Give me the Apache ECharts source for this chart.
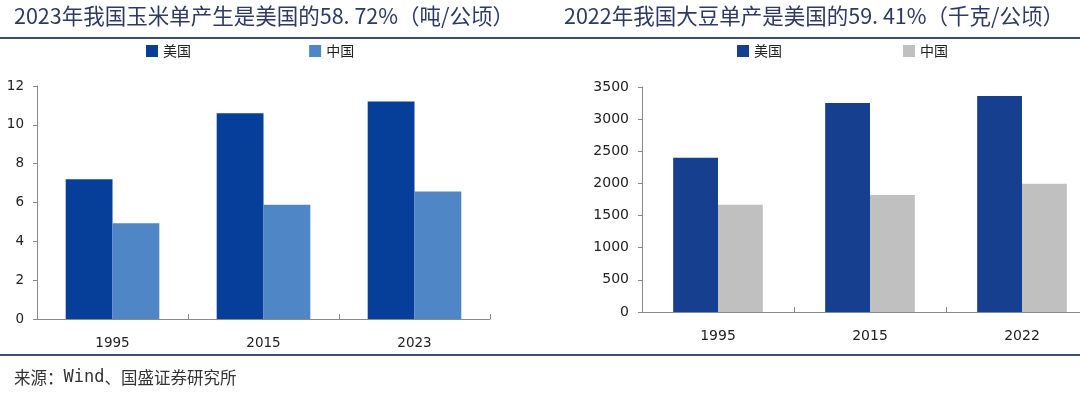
<!DOCTYPE html>
<html><head><meta charset="utf-8">
<script src="https://cdn.jsdelivr.net/npm/echarts@6/dist/echarts.min.js"></script>
<style>html,body{margin:0;padding:0;background:#fff}#c{width:1080px;height:393px}</style>
</head><body><div id="c"></div>
<script>
const cornYears = ['1995', '2015', '2023'];
const cornUS = [7.2, 10.6, 11.2];
const cornCN = [4.93, 5.88, 6.57];
const soyYears = ['1995', '2015', '2022'];
const soyUS = [2400, 3250, 3360];
const soyCN = [1670, 1820, 1996];
const seriesNames = ['美国', '中国'];
const titleLeft = '2023年我国玉米单产生是美国的58. 72%（吨/公顷）';
const titleRight = '2022年我国大豆单产是美国的59. 41%（千克/公顷）';
const sourceParts = ['来源：', 'Wind', '、国盛证券研究所'];

const chart = echarts.init(document.getElementById('c'), null, {renderer: 'canvas'});
const axisFont = 'DejaVu Sans';
const cjk = '"Noto Sans CJK SC"';
function xAxis(idx, data, fs) {
  return {type: 'category', gridIndex: idx, data: data,
    axisLine: {lineStyle: {color: '#8a8a8a', width: 1}},
    axisTick: {show: true, inside: true, length: 5, lineStyle: {color: '#8a8a8a'}},
    axisLabel: {color: '#222', fontFamily: axisFont, fontSize: fs, margin: 17}};
}
function yAxis(idx, max, interval, fs) {
  return {type: 'value', gridIndex: idx, min: 0, max: max, interval: interval,
    axisLine: {show: true, lineStyle: {color: '#8a8a8a', width: 1}},
    axisTick: {show: true, length: 4, lineStyle: {color: '#8a8a8a'}},
    splitLine: {show: false},
    axisLabel: {color: '#222', fontFamily: axisFont, fontSize: fs, margin: 13,
      formatter: function (v) { return String(v); }}};
}
chart.setOption({
  animation: false,
  backgroundColor: '#ffffff',
  grid: [
    {left: 37, top: 86, width: 453, height: 233, outerBoundsMode: 'none', containLabel: false},
    {left: 642, top: 87, width: 456, height: 225, outerBoundsMode: 'none', containLabel: false}
  ],
  legend: [
    {data: [{name: seriesNames[0] + ' ', itemStyle: {color: '#063f9a'}}, {name: seriesNames[1] + ' ', itemStyle: {color: '#4f86c6'}}],
      left: 146, top: 44, padding: 0, itemWidth: 12, itemHeight: 12, itemGap: 115, icon: 'rect',
      textStyle: {fontFamily: cjk, fontSize: 14, color: '#222'}},
    {data: [{name: seriesNames[0], itemStyle: {color: '#173f8f'}}, {name: seriesNames[1], itemStyle: {color: '#c0c0c0'}}],
      left: 737, top: 44, padding: 0, itemWidth: 12, itemHeight: 12, itemGap: 121, icon: 'rect',
      textStyle: {fontFamily: cjk, fontSize: 14, color: '#222'}}
  ],
  xAxis: [xAxis(0, cornYears, 13.5), xAxis(1, soyYears, 14)],
  yAxis: [yAxis(0, 12, 2, 13.5), yAxis(1, 3500, 500, 14)],
  series: [
    {name: seriesNames[0] + ' ', type: 'bar', xAxisIndex: 0, yAxisIndex: 0, data: cornUS,
      itemStyle: {color: '#063f9a'}, barGap: '0%', barCategoryGap: '38%'},
    {name: seriesNames[1] + ' ', type: 'bar', xAxisIndex: 0, yAxisIndex: 0, data: cornCN,
      itemStyle: {color: '#4f86c6'}},
    {name: seriesNames[0], type: 'bar', xAxisIndex: 1, yAxisIndex: 1, data: soyUS,
      itemStyle: {color: '#173f8f'}, barGap: '0%', barCategoryGap: '41%'},
    {name: seriesNames[1], type: 'bar', xAxisIndex: 1, yAxisIndex: 1, data: soyCN,
      itemStyle: {color: '#c0c0c0'}}
  ],
  graphic: [
    {type: 'text', left: 14, top: 5, style: {text: titleLeft, font: '21.5px ' + cjk, fill: '#2d3a66'}},
    {type: 'text', left: 564, top: 5, style: {text: titleRight, font: '21.5px ' + cjk, fill: '#2d3a66'}},
    {type: 'line', shape: {x1: 0, y1: 38, x2: 1080, y2: 38}, style: {stroke: '#3b4b7c', lineWidth: 2}},
    {type: 'line', shape: {x1: 0, y1: 355, x2: 1080, y2: 355}, style: {stroke: '#3b4b7c', lineWidth: 2}},
    {type: 'text', left: 14, top: 369, style: {
      text: '{a|' + sourceParts[0] + '}{b|' + sourceParts[1] + '}{a|' + sourceParts[2] + '}',
      rich: {
        a: {fontFamily: cjk, fontSize: 16.5, fill: '#333', color: '#333'},
        b: {fontFamily: 'DejaVu Sans Mono', fontSize: 17, fill: '#333', color: '#333'}
      }}}
  ]
});
</script></body></html>
